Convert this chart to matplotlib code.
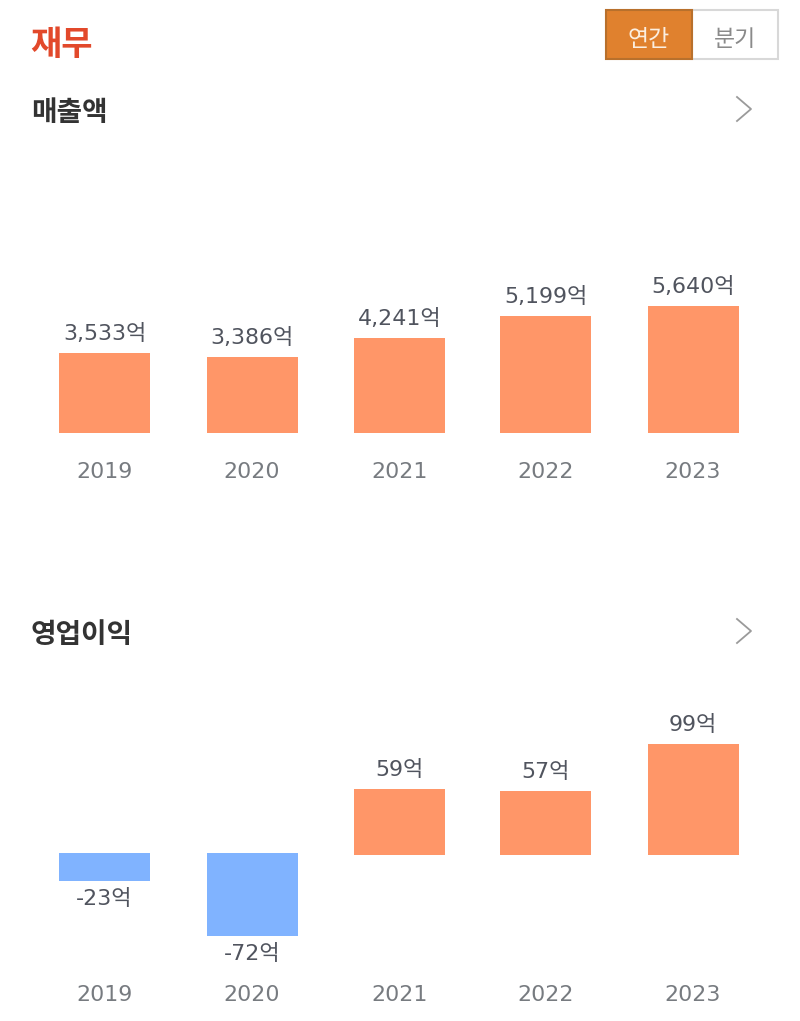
import matplotlib
matplotlib.use("Agg")
import matplotlib.pyplot as plt
from matplotlib.patches import Rectangle
from matplotlib.lines import Line2D

# digits look like Verdana/DejaVu in the reference, hangul falls through to Noto
plt.rcParams['font.family'] = ['DejaVu Sans', 'Noto Sans CJK KR']

years = ["2019", "2020", "2021", "2022", "2023"]
sales = [3533, 3386, 4241, 5199, 5640]
profit = [-23, -72, 59, 57, 99]

W, H = 800, 1021
ORANGE = "#ff9668"
BLUE = "#80b3ff"
GREY = "#777b80"
LABEL = "#50545e"

fig = plt.figure(figsize=(W / 100, H / 100), dpi=100)
bg = fig.add_axes([0, 0, 1, 1])
bg.set_xlim(0, W)
bg.set_ylim(H, 0)
bg.axis("off")


def make_axes(top, bottom, ymin, ymax):
    ax = fig.add_axes([31 / W, 1 - bottom / H, 738 / W, (bottom - top) / H])
    ax.set_xlim(31, 769)
    ax.set_ylim(ymin, ymax)
    ax.axis("off")
    ax.patch.set_alpha(0)
    return ax


centers = [104.5, 252, 399.5, 545.5, 693]
width = 91
fs = 15.9

# 매출액
ax1 = make_axes(140, 433, 0, 5640 * 293 / 127)
ax1.bar(centers, sales, width, color=ORANGE)
for c, v in zip(centers, sales):
    ax1.annotate(f"{v:,}억", (c, v), xytext=(0, 9), textcoords="offset pixels",
                 ha="center", va="bottom", fontsize=fs, color=LABEL)

# 영업이익, zero line at y=855 px, 1.12 px per 억
ax2 = make_axes(700, 940, -85 / 1.12, 155 / 1.12)
lift = 2 / 1.12  # negative bars start a little above the positive baseline
for c, v in zip(centers, profit):
    if v > 0:
        ax2.bar(c, v, width, color=ORANGE)
        ax2.annotate(f"{v}억", (c, v), xytext=(0, 9), textcoords="offset pixels",
                     ha="center", va="bottom", fontsize=fs, color=LABEL)
    else:
        ax2.bar(c, v - lift, width, bottom=lift, color=BLUE)
        ax2.annotate(f"{v}억", (c, v), xytext=(0, -8), textcoords="offset pixels",
                     ha="center", va="top", fontsize=fs, color=LABEL)

for c, y in zip(centers, years):
    bg.text(c, 472, y, ha="center", va="center", fontsize=fs, color=GREY)
    bg.text(c, 995, y, ha="center", va="center", fontsize=fs, color=GREY)

# 헤더
bg.text(30, 45, "재무", ha="left", va="center", fontsize=24.5, fontweight="bold", color="#e2492b")
bg.text(31, 113, "매출액", ha="left", va="center", fontsize=20, fontweight="bold", color="#333333")
bg.text(31, 635, "영업이익", ha="left", va="center", fontsize=20, fontweight="bold", color="#333333")

bg.add_patch(Rectangle((692, 10), 86, 49, fc="white", ec="#d8d8d8", lw=1.5))
bg.add_patch(Rectangle((606, 10), 86, 49, fc="#e0812e", ec="#b8702c", lw=1.5))
bg.text(649, 39, "연간", ha="center", va="center", fontsize=16.5, color="#fbeee0")
bg.text(735, 39, "분기", ha="center", va="center", fontsize=16.5, color="#8a8a8a")

for yc in (109, 631):
    bg.add_line(Line2D([737, 751, 737], [yc - 12, yc, yc + 12], color="#9a9a9a", lw=1.3))

fig.savefig("out.png", dpi=100, facecolor="white")
